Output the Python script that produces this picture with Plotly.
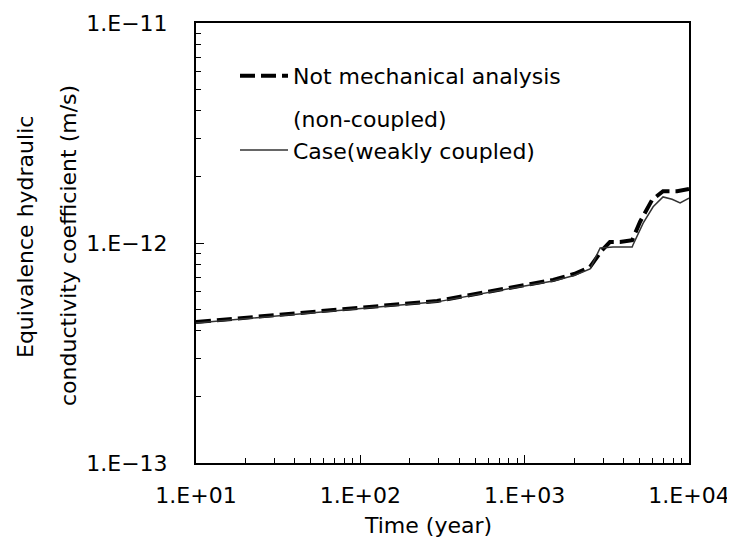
import plotly.graph_objects as go

# Data
t_nc = [10, 100, 293, 1000, 1490, 2000, 2500, 2960, 3300, 3800, 4510, 5040, 5960, 6950, 8460, 10000]
k_nc = [4.37e-13, 5.08e-13, 5.45e-13, 6.44e-13, 6.79e-13, 7.23e-13, 7.78e-13, 9.29e-13,
        1.01e-12, 1.01e-12, 1.03e-12, 1.25e-12, 1.57e-12, 1.72e-12, 1.72e-12, 1.76e-12]

t_wc = [10, 100, 293, 1000, 1490, 2000, 2500, 2880, 3450, 4510, 4560, 5260, 6050, 6950, 7890, 8830, 10000]
k_wc = [4.33e-13, 5.03e-13, 5.40e-13, 6.38e-13, 6.72e-13, 7.12e-13, 7.62e-13, 9.49e-13,
        9.59e-13, 9.59e-13, 9.80e-13, 1.23e-12, 1.46e-12, 1.62e-12, 1.58e-12, 1.52e-12, 1.60e-12]

x_tickvals = [10, 100, 1000, 10000]
x_ticktext = ["1.E+01", "1.E+02", "1.E+03", "1.E+04"]
y_tickvals = [1e-13, 1e-12, 1e-11]
y_ticktext = ["1.E\u221213", "1.E\u221212", "1.E\u221211"]

FONT = "DejaVu Sans"
FS = 22

fig = go.Figure()
fig.add_trace(go.Scatter(x=t_nc, y=k_nc, mode="lines",
                         name="Not mechanical analysis", legendgroup="g1",
                         line=dict(color="black", width=4, dash="15px,6px")))
# legend continuation line for the first series' label
fig.add_trace(go.Scatter(x=[None], y=[None], mode="lines",
                         name="(non-coupled)", legendgroup="g2", hoverinfo="skip",
                         line=dict(color="rgba(0,0,0,0)", width=0)))
fig.add_trace(go.Scatter(x=t_wc, y=k_wc, mode="lines",
                         name="Case(weakly coupled)", legendgroup="g2",
                         line=dict(color="#333333", width=1.5)))

# page has an 8px body margin: figure is drawn offset by (8, 8)
OFF = 8
W, H = 735 - OFF, 543 - OFF
L, R, T, B = 196 - OFF, 46, 23 - OFF, 80
pw, ph = W - L - R, H - T - B

def px(x):
    return (x - OFF - L) / pw

def py(y):
    return (H - B - (y - OFF)) / ph

fig.update_layout(
    width=W, height=H,
    margin=dict(l=L, r=R, t=T, b=B, pad=0, autoexpand=False),
    paper_bgcolor="white", plot_bgcolor="white",
    font=dict(family=FONT, size=FS, color="black"),
    showlegend=True,
    legend=dict(x=px(235), y=py(55), xanchor="left", yanchor="top",
                bgcolor="rgba(0,0,0,0)", valign="top", itemwidth=48,
                traceorder="grouped", tracegroupgap=11,
                font=dict(family=FONT, size=FS, color="black")),
    xaxis=dict(type="log", range=[1, 4], tickvals=x_tickvals, ticktext=x_ticktext,
               automargin=False,
               showgrid=False, zeroline=False, showline=True, linecolor="black", linewidth=2,
               mirror=True, ticks="inside", ticklen=8, tickwidth=1, tickcolor="black",
               minor=dict(ticks="inside", ticklen=5, tickcolor="black", dtick="D1", showgrid=False),
               tickfont=dict(family=FONT, size=FS), ticklabelstandoff=12),
    yaxis=dict(type="log", range=[-13, -11], tickvals=y_tickvals, ticktext=y_ticktext,
               automargin=False,
               showgrid=False, zeroline=False, showline=True, linecolor="black", linewidth=2,
               mirror=True, ticks="inside", ticklen=8, tickwidth=1, tickcolor="black",
               minor=dict(ticks="inside", ticklen=5, tickcolor="black", dtick="D1", showgrid=False),
               tickfont=dict(family=FONT, size=FS), ticklabelstandoff=22),
    annotations=[
        dict(text="Equivalence hydraulic", xref="paper", yref="paper",
             x=px(25), y=py(237), xanchor="center", yanchor="middle",
             textangle=-90, showarrow=False, font=dict(family=FONT, size=FS)),
        dict(text="conductivity coefficient (m/s)", xref="paper", yref="paper",
             x=px(68), y=py(246), xanchor="center", yanchor="middle",
             textangle=-90, showarrow=False, font=dict(family=FONT, size=FS)),
        dict(text="Time (year)", xref="paper", yref="paper",
             x=px(428), y=py(525), xanchor="center", yanchor="middle",
             showarrow=False, font=dict(family=FONT, size=FS)),
    ],
)

fig.write_html("out.html")
